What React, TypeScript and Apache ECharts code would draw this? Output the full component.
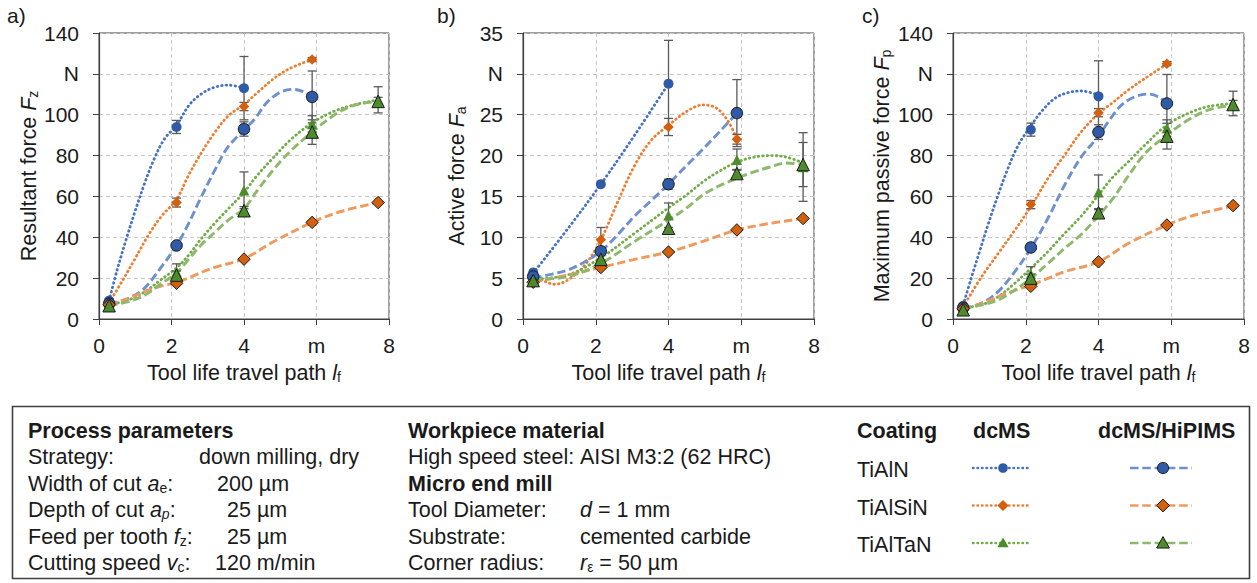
import React, { useEffect, useRef } from "react";
import * as echarts from "echarts";

// ---------- measured tool life travel path positions (m) ----------
const xMeas = [0.28, 2.14, 4.0, 5.88, 7.7];

// ---------- panel a: resultant force Fz (N) ----------
const fzTiAlNdc = [9, 94, 113];
const fzTiAlNdcErr = [1, 3.2, 15.5];
const fzTiAlNhi = [7.5, 36, 93, 108.7];
const fzTiAlNhiErr = [1, 1.5, 3.5, 12.7];
const fzTiAlSiNdc = [8, 57, 104, 127];
const fzTiAlSiNdcErr = [0.5, 2.2, 2, 1];
const fzTiAlSiNhi = [7, 17.5, 29.3, 47.3, 57];
const fzTiAlSiNhiErr = [0.5, 0.5, 0.5, 0.5, 0.5];
const fzTiAlTaNdc = [7, 23, 63, 95.5, 107.3];
const fzTiAlTaNdcErr = [0.5, 4, 9, 4, 6.4];
const fzTiAlTaNhi = [6.5, 21.5, 53, 91.5, 106.5];
const fzTiAlTaNhiErr = [0.5, 2, 2, 6, 2];

const fzTiAlNdcCurve = [[0.28, 9], [0.5, 24], [0.75, 39], [1.0, 53], [1.25, 66], [1.5, 77.5], [1.8, 88], [2.14, 95], [2.5, 105], [2.85, 110.5], [3.2, 113.5], [3.57, 114.5], [4.0, 113]];
const fzTiAlNhiCurve = [[0.28, 7.5], [0.8, 10], [1.25, 15], [1.7, 25], [2.14, 36], [2.45, 46], [2.8, 59], [3.2, 73], [3.55, 84], [4.0, 92.5], [4.3, 98], [4.63, 106], [5.0, 111], [5.35, 112.4], [5.64, 111.3], [5.88, 108.7]];
const fzTiAlSiNdcCurve = [[0.28, 8], [0.63, 18.3], [1.0, 29.7], [1.36, 41], [1.73, 50.5], [2.14, 58.5], [2.46, 70], [2.83, 81.5], [3.2, 91.5], [3.57, 99.5], [4.0, 105], [4.35, 110.5], [4.81, 117.5], [5.27, 122.7], [5.88, 127]];
const fzTiAlSiNhiCurve = [[0.28, 7], [0.81, 10], [1.27, 13.4], [1.73, 16.2], [2.14, 17.8], [2.65, 21.5], [3.2, 25.3], [4.0, 29.5], [4.81, 37.8], [5.88, 47.3], [6.65, 52.5], [7.7, 57]];
const fzTiAlTaNdcCurve = [[0.28, 7], [0.81, 9.3], [1.27, 13.4], [1.73, 19.5], [2.14, 25], [2.46, 31], [2.83, 39.5], [3.2, 47], [3.57, 54], [4.0, 62], [4.35, 70], [4.81, 79], [5.27, 87.5], [5.88, 96], [6.46, 101.5], [7.01, 104.7], [7.7, 107.3]];
const fzTiAlTaNhiCurve = [[0.28, 6.5], [0.81, 8.5], [1.27, 11.7], [1.73, 17.5], [2.14, 22.5], [2.46, 29], [2.83, 36.5], [3.2, 42.5], [3.57, 48.5], [4.0, 54], [4.35, 62.5], [4.81, 73], [5.27, 82], [5.88, 91.5], [6.46, 99.5], [7.01, 104.5], [7.7, 106.5]];

// ---------- panel b: active force Fa (N) ----------
const faTiAlNdc = [5.7, 16.5, 28.8];
const faTiAlNdcErr = [0.3, 0.3, 5.3];
const faTiAlNhi = [5.2, 8.3, 16.5, 25.2];
const faTiAlNhiErr = [0.3, 0.4, 0.6, 4.1];
const faTiAlSiNdc = [5.3, 9.7, 23.5, 22];
const faTiAlSiNdcErr = [0.3, 1.5, 1.05, 0.6];
const faTiAlSiNhi = [4.5, 6.3, 8.2, 10.9, 12.3];
const faTiAlSiNhiErr = [0.2, 0.2, 0.2, 0.2, 0.2];
const faTiAlTaNdc = [4.9, 7.6, 12.7, 19.5, 18.6];
const faTiAlTaNdcErr = [0.2, 0.5, 1.5, 1.3, 4.2];
const faTiAlTaNhi = [4.7, 7.3, 11.1, 17.8, 18.9];
const faTiAlTaNhiErr = [0.2, 0.4, 0.4, 0.5, 2.7];

const faTiAlNdcCurve = [[0.28, 5.6], [1.24, 11.1], [2.14, 16.5], [3.07, 22.5], [4.0, 28.8]];
const faTiAlNhiCurve = [[0.28, 5.0], [0.8, 5.5], [1.24, 6.0], [1.7, 7.0], [2.14, 8.3], [2.6, 10.3], [3.07, 12.6], [3.55, 14.6], [4.0, 16.5], [4.5, 18.8], [4.95, 20.8], [5.4, 22.9], [5.88, 25.2]];
const faTiAlSiNdcCurve = [[0.28, 5.3], [0.6, 4.6], [0.87, 4.25], [1.24, 4.8], [1.7, 6.6], [2.14, 9.7], [2.61, 14.4], [3.07, 18.8], [3.53, 21.9], [4.0, 23.7], [4.5, 25.4], [4.95, 26.2], [5.32, 25.8], [5.64, 24.2], [5.88, 22]];
const faTiAlSiNhiCurve = [[0.28, 4.5], [1.24, 5.4], [2.14, 6.3], [3.07, 7.3], [4.0, 8.2], [4.95, 9.5], [5.88, 10.9], [6.79, 11.7], [7.7, 12.3]];
const faTiAlTaNdcCurve = [[0.28, 4.9], [1.24, 5.4], [2.14, 7.5], [3.07, 10.5], [4.0, 13.6], [4.5, 15.2], [4.95, 16.8], [5.4, 18.1], [5.88, 19.2], [6.35, 19.8], [6.8, 20.0], [7.25, 19.8], [7.7, 19.1]];
const faTiAlTaNhiCurve = [[0.28, 4.8], [1.24, 5.2], [2.14, 6.8], [3.07, 9.5], [4.0, 12.1], [4.5, 13.6], [4.95, 15.2], [5.4, 16.3], [5.88, 17.2], [6.35, 18.0], [6.79, 18.6], [7.25, 19.1], [7.7, 18.9]];

// ---------- panel c: maximum passive force Fp (N) ----------
const fpTiAlNdc = [6.5, 92.7, 109];
const fpTiAlNdcErr = [1, 3.2, 17.4];
const fpTiAlNhi = [5.5, 35, 91.5, 105.5];
const fpTiAlNhiErr = [1, 1.5, 3.6, 14.2];
const fpTiAlSiNdc = [6.5, 56, 101, 125];
const fpTiAlSiNdcErr = [0.5, 2, 2, 1];
const fpTiAlSiNhi = [5, 16, 28, 46, 55.5];
const fpTiAlSiNhiErr = [0.5, 0.5, 0.5, 0.5, 0.5];
const fpTiAlTaNdc = [5, 22, 62, 93.5, 105.5];
const fpTiAlTaNdcErr = [0.5, 3.6, 8.5, 4, 6];
const fpTiAlTaNhi = [4.5, 20, 52, 89.5, 105];
const fpTiAlTaNhiErr = [0.5, 2, 2, 6.3, 2];

const fpTiAlNdcCurve = [[0.28, 6.9], [0.5, 19.9], [0.73, 33], [0.96, 46], [1.24, 60.7], [1.51, 73.7], [1.79, 85], [2.06, 92.5], [2.43, 101.5], [2.8, 108], [3.16, 110.8], [3.53, 111.6], [4.0, 109.6]];
const fpTiAlNhiCurve = [[0.28, 5.2], [0.78, 7.7], [1.24, 13.4], [1.7, 23.2], [2.14, 34.6], [2.61, 49.3], [3.07, 65.6], [3.53, 79.4], [4.0, 89.5], [4.27, 96.6], [4.63, 104.7], [5.0, 108.8], [5.37, 110.1], [5.64, 108.8], [5.88, 105.5]];
const fpTiAlSiNdcCurve = [[0.28, 6], [0.78, 20.5], [1.24, 32], [1.7, 43.5], [2.14, 55], [2.61, 68.8], [3.07, 80.3], [3.53, 91.7], [4.0, 100.6], [4.36, 105.5], [4.82, 112.1], [5.28, 117.8], [5.88, 124.8]];
const fpTiAlSiNhiCurve = [[0.28, 4.9], [0.78, 7.7], [1.24, 10.9], [1.7, 14], [2.14, 16.6], [2.61, 19.9], [3.07, 23.2], [4.0, 28], [4.82, 37], [5.88, 46], [6.65, 50.9], [7.7, 55.3]];
const fpTiAlTaNdcCurve = [[0.28, 5.5], [0.78, 6.9], [1.24, 10.9], [1.7, 17.5], [2.14, 24.8], [2.61, 33], [3.07, 41.9], [3.53, 50.5], [4.0, 60.7], [4.36, 68.8], [4.82, 77], [5.28, 85.2], [5.88, 95], [6.46, 100.6], [7.01, 104], [7.7, 105.5]];
const fpTiAlTaNhiCurve = [[0.28, 5.2], [0.78, 6.9], [1.24, 9.3], [1.7, 14.2], [2.14, 19.9], [2.61, 27.2], [3.07, 34.6], [3.53, 41.5], [4.0, 50.5], [4.4, 59], [4.82, 70], [5.28, 81], [5.88, 90], [6.46, 97.4], [7.01, 102.3], [7.7, 104.7]];

// ---------- styling ----------
const FONT = "'Liberation Sans', Arial, sans-serif";
const TXT = "#1a1a1a";
const AX = "#404040";
const COL = {
  TiAlN: { mark: "#2F5AA6", dot: "#4472C4", dash: "#6E90CC", symbol: "circle" },
  TiAlSiN: { mark: "#D2600F", dot: "#ED7D31", dash: "#F0995C", symbol: "diamond" },
  TiAlTaN: { mark: "#4E8B2C", dot: "#70AD47", dash: "#8DB96C", symbol: "triangle" },
};
const DOT = [0.5, 4];
const DASH = [8.5, 3.8];

type Coat = "TiAlN" | "TiAlSiN" | "TiAlTaN";
interface Ser { coat: Coat; hi: boolean; vals: number[]; err: number[]; curve: number[][]; }

const panelSeries: Ser[][] = [
  [
    { coat: "TiAlN", hi: false, vals: fzTiAlNdc, err: fzTiAlNdcErr, curve: fzTiAlNdcCurve },
    { coat: "TiAlSiN", hi: false, vals: fzTiAlSiNdc, err: fzTiAlSiNdcErr, curve: fzTiAlSiNdcCurve },
    { coat: "TiAlTaN", hi: false, vals: fzTiAlTaNdc, err: fzTiAlTaNdcErr, curve: fzTiAlTaNdcCurve },
    { coat: "TiAlN", hi: true, vals: fzTiAlNhi, err: fzTiAlNhiErr, curve: fzTiAlNhiCurve },
    { coat: "TiAlSiN", hi: true, vals: fzTiAlSiNhi, err: fzTiAlSiNhiErr, curve: fzTiAlSiNhiCurve },
    { coat: "TiAlTaN", hi: true, vals: fzTiAlTaNhi, err: fzTiAlTaNhiErr, curve: fzTiAlTaNhiCurve },
  ],
  [
    { coat: "TiAlN", hi: false, vals: faTiAlNdc, err: faTiAlNdcErr, curve: faTiAlNdcCurve },
    { coat: "TiAlSiN", hi: false, vals: faTiAlSiNdc, err: faTiAlSiNdcErr, curve: faTiAlSiNdcCurve },
    { coat: "TiAlTaN", hi: false, vals: faTiAlTaNdc, err: faTiAlTaNdcErr, curve: faTiAlTaNdcCurve },
    { coat: "TiAlN", hi: true, vals: faTiAlNhi, err: faTiAlNhiErr, curve: faTiAlNhiCurve },
    { coat: "TiAlSiN", hi: true, vals: faTiAlSiNhi, err: faTiAlSiNhiErr, curve: faTiAlSiNhiCurve },
    { coat: "TiAlTaN", hi: true, vals: faTiAlTaNhi, err: faTiAlTaNhiErr, curve: faTiAlTaNhiCurve },
  ],
  [
    { coat: "TiAlN", hi: false, vals: fpTiAlNdc, err: fpTiAlNdcErr, curve: fpTiAlNdcCurve },
    { coat: "TiAlSiN", hi: false, vals: fpTiAlSiNdc, err: fpTiAlSiNdcErr, curve: fpTiAlSiNdcCurve },
    { coat: "TiAlTaN", hi: false, vals: fpTiAlTaNdc, err: fpTiAlTaNdcErr, curve: fpTiAlTaNdcCurve },
    { coat: "TiAlN", hi: true, vals: fpTiAlNhi, err: fpTiAlNhiErr, curve: fpTiAlNhiCurve },
    { coat: "TiAlSiN", hi: true, vals: fpTiAlSiNhi, err: fpTiAlSiNhiErr, curve: fpTiAlSiNhiCurve },
    { coat: "TiAlTaN", hi: true, vals: fpTiAlTaNhi, err: fpTiAlTaNhiErr, curve: fpTiAlTaNhiCurve },
  ],
];

const panelLetters = ["a)", "b)", "c)"];
const yNames = [
  ["Resultant force ", "F", "z"],
  ["Active force ", "F", "a"],
  ["Maximum passive force ", "F", "p"],
];
const yMaxes = [140, 35, 140];
const yIntervals = [20, 5, 20];
const yUnitAt = [120, 30, 120];
const xUnitAt = 6;

const grids = [
  { left: 99, top: 33, width: 290, height: 286 },
  { left: 523, top: 33, width: 291, height: 286 },
  { left: 953, top: 33, width: 291, height: 286 },
];
const yNameGaps = [58.5, 55.5, 60.5];
const letterPos = [[7, 15.5], [437, 15.5], [862, 15.5]];

const FT = 21;   // tick labels
const FN = 21.5; // axis names
const richName = {
  n: { fontFamily: FONT, fontSize: FN, lineHeight: 26, verticalAlign: "bottom", color: TXT },
  i: { fontFamily: FONT, fontSize: FN, lineHeight: 26, verticalAlign: "bottom", fontStyle: "italic", color: TXT },
  s: { fontFamily: FONT, fontSize: 14, lineHeight: 12, verticalAlign: "bottom", color: TXT },
};

function buildOption() {
  const xAxis: any[] = [];
  const yAxis: any[] = [];
  const series: any[] = [];
  const graphic: any[] = [];

  grids.forEach((g, p) => {
    xAxis.push({
      type: "value", gridIndex: p, min: 0, max: 8, interval: 2,
      name: "{n|Tool life travel path }{i|l}{s|f}",
      nameLocation: "middle", nameGap: 38,
      nameTextStyle: { fontFamily: FONT, fontSize: FN, color: TXT, lineHeight: 26, rich: richName },
      axisLine: { show: true, lineStyle: { color: AX, width: 1.2 } },
      axisTick: { show: true, length: 6, lineStyle: { color: AX } },
      axisLabel: {
        fontFamily: FONT, fontSize: FT, color: TXT, margin: 14, lineHeight: 24,
        formatter: (v: number) => (v === xUnitAt ? "m" : String(v)),
      },
      splitLine: { show: true, lineStyle: { color: "#c8c8c8", type: [4, 3], width: 1 } },
    });
    yAxis.push({
      type: "value", gridIndex: p, min: 0, max: yMaxes[p], interval: yIntervals[p],
      name: `{n|${yNames[p][0]}}{i|${yNames[p][1]}}{s|${yNames[p][2]}}`,
      nameLocation: "middle", nameGap: yNameGaps[p], nameRotate: 90,
      nameTextStyle: { fontFamily: FONT, fontSize: FN, color: TXT, lineHeight: 26, rich: richName },
      axisLine: { show: true, lineStyle: { color: AX, width: 1.2 } },
      axisTick: { show: true, length: 6, lineStyle: { color: AX } },
      axisLabel: {
        fontFamily: FONT, fontSize: FT, color: TXT, margin: 20,
        formatter: (v: number) => (v === yUnitAt[p] ? "N" : String(v)),
      },
      splitLine: { show: true, lineStyle: { color: "#c8c8c8", type: [4, 3], width: 1 } },
    });

    const errData: number[][] = [];
    panelSeries[p].forEach((s) => {
      const c = COL[s.coat];
      series.push({
        type: "line", xAxisIndex: p, yAxisIndex: p, data: s.curve, smooth: 0.35,
        symbol: "none", silent: true, z: 2,
        lineStyle: s.hi
          ? { color: c.dash, width: 2.9, type: DASH, cap: "butt" }
          : { color: c.dot, width: 2.8, type: DOT, cap: "round" },
      });
      s.vals.forEach((v, i) => {
        if (s.err[i] > 0.45) errData.push([xMeas[i], v - s.err[i], v + s.err[i]]);
      });
    });
    series.push({
      type: "custom", xAxisIndex: p, yAxisIndex: p, data: errData, z: 3, silent: true,
      encode: { x: 0, y: [1, 2] },
      renderItem: (_params: any, api: any) => {
        const x = api.value(0);
        const lo = api.coord([x, api.value(1)]);
        const hi = api.coord([x, api.value(2)]);
        const cap = 4.5;
        const style = { stroke: "#595959", lineWidth: 1.3 };
        return {
          type: "group",
          children: [
            { type: "line", shape: { x1: lo[0], y1: lo[1], x2: hi[0], y2: hi[1] }, style },
            { type: "line", shape: { x1: lo[0] - cap, y1: lo[1], x2: lo[0] + cap, y2: lo[1] }, style },
            { type: "line", shape: { x1: hi[0] - cap, y1: hi[1], x2: hi[0] + cap, y2: hi[1] }, style },
          ],
        };
      },
    });
    panelSeries[p].forEach((s) => {
      const c = COL[s.coat];
      const size = s.hi ? (s.coat === "TiAlN" ? 11.5 : 12.5) : (s.coat === "TiAlN" ? 10 : 10.5);
      series.push({
        type: "scatter", xAxisIndex: p, yAxisIndex: p,
        data: s.vals.map((v, i) => [xMeas[i], v]),
        symbol: c.symbol, symbolSize: size, z: s.hi ? 6 : 5, silent: true,
        itemStyle: s.hi
          ? { color: c.mark, borderColor: "#1a1a1a", borderWidth: 1, opacity: 1 }
          : { color: c.mark, borderWidth: 0, opacity: 1 },
      });
    });

    graphic.push({
      type: "text", x: letterPos[p][0], y: letterPos[p][1],
      style: { text: panelLetters[p], font: `${FT}px ${FONT}`, fill: TXT, verticalAlign: "middle", align: "left" },
    });
  });

  // ---------- information / legend box ----------
  const LF = 21.5;
  const rich = {
    n: { fontFamily: FONT, fontSize: LF, lineHeight: 26, verticalAlign: "bottom", color: TXT },
    i: { fontFamily: FONT, fontSize: LF, lineHeight: 26, verticalAlign: "bottom", fontStyle: "italic", color: TXT },
    s: { fontFamily: FONT, fontSize: 14, lineHeight: 12, verticalAlign: "bottom", color: TXT },
    si: { fontFamily: FONT, fontSize: 14, lineHeight: 12, verticalAlign: "bottom", fontStyle: "italic", color: TXT },
    b: { fontFamily: FONT, fontSize: LF, lineHeight: 26, verticalAlign: "bottom", fontWeight: "bold", color: TXT },
  };
  const t = (x: number, y: number, text: string) => ({
    type: "text", x, y, z: 20,
    style: { text, rich, fill: TXT, font: `${LF}px ${FONT}`, verticalAlign: "middle", align: "left" },
  });
  const rows = [429, 455, 481.5, 508, 534.5, 561];
  graphic.push({
    type: "rect", z: 19,
    shape: { x: 12.5, y: 406.5, width: 1237, height: 172 },
    style: { fill: "#fff", stroke: AX, lineWidth: 1.6 },
  });
  graphic.push(
    t(28, rows[0], "{b|Process parameters}"),
    t(28, rows[1], "{n|Strategy:}"), t(199, rows[1], "{n|down milling, dry}"),
    t(28, rows[2], "{n|Width of cut }{i|a}{s|e}{n|:}"), t(217, rows[2], "{n|200 µm}"),
    t(28, rows[3], "{n|Depth of cut }{i|a}{si|p}{n|:}"), t(227, rows[3], "{n|25 µm}"),
    t(28, rows[4], "{n|Feed per tooth }{i|f}{s|z}{n|:}"), t(227, rows[4], "{n|25 µm}"),
    t(28, rows[5], "{n|Cutting speed }{i|v}{s|c}{n|:}"), t(215, rows[5], "{n|120 m/min}"),
    t(408, rows[0], "{b|Workpiece material}"),
    t(408, rows[1], "{n|High speed steel:}"), t(580, rows[1], "{n|AISI M3:2 (62 HRC)}"),
    t(408, rows[2], "{b|Micro end mill}"),
    t(408, rows[3], "{n|Tool Diameter:}"), t(580, rows[3], "{i|d}{n| = 1 mm}"),
    t(408, rows[4], "{n|Substrate:}"), t(580, rows[4], "{n|cemented carbide}"),
    t(408, rows[5], "{n|Corner radius:}"), t(580, rows[5], "{i|r}{s|ε}{n| = 50 µm}"),
    t(857, rows[0], "{b|Coating}"), t(973, rows[0], "{b|dcMS}"), t(1098, rows[0], "{b|dcMS/HiPIMS}"),
  );
  const legRows: [Coat, number][] = [["TiAlN", 468], ["TiAlSiN", 505.5], ["TiAlTaN", 543]];
  const markerShape = (coat: Coat, cx: number, cy: number, r: number, border: boolean) => {
    const c = COL[coat];
    const style = { fill: c.mark, stroke: border ? "#1a1a1a" : c.mark, lineWidth: border ? 1 : 0 };
    if (coat === "TiAlN") return { type: "circle", z: 22, shape: { cx, cy, r }, style };
    if (coat === "TiAlSiN")
      return { type: "polygon", z: 22, shape: { points: [[cx, cy - r - 0.8], [cx + r + 0.8, cy], [cx, cy + r + 0.8], [cx - r - 0.8, cy]] }, style };
    return { type: "polygon", z: 22, shape: { points: [[cx, cy - r - 0.8], [cx + r + 0.8, cy + r * 0.9], [cx - r - 0.8, cy + r * 0.9]] }, style };
  };
  legRows.forEach(([coat, y]) => {
    const c = COL[coat];
    graphic.push(t(857, y, `{n|${coat}}`));
    graphic.push({
      type: "line", z: 21, shape: { x1: 973, y1: y, x2: 1031, y2: y },
      style: { stroke: c.dot, lineWidth: 2.5, lineDash: DOT, lineCap: "round" },
    });
    graphic.push(markerShape(coat, 1003, y, 4.8, false));
    graphic.push({
      type: "line", z: 21, shape: { x1: 1130, y1: y, x2: 1192, y2: y },
      style: { stroke: c.dash, lineWidth: 2.7, lineDash: DASH },
    });
    graphic.push(markerShape(coat, 1163, y, 5.6, true));
  });

  return {
    animation: false,
    backgroundColor: "#ffffff",
    grid: grids.map((g) => ({ ...g, show: true, borderColor: AX, borderWidth: 1, backgroundColor: "transparent" })),
    xAxis, yAxis, series, graphic,
  };
}

export default function App() {
  const ref = useRef<HTMLDivElement>(null);
  useEffect(() => {
    if (!ref.current) return;
    const chart = echarts.init(ref.current, null, { renderer: "svg" });
    chart.setOption(buildOption() as any);
    return () => chart.dispose();
  }, []);
  return (
    <div
      ref={ref}
      style={{ position: "absolute", left: 0, top: 0, width: 1257, height: 583, background: "#fff" }}
    />
  );
}
